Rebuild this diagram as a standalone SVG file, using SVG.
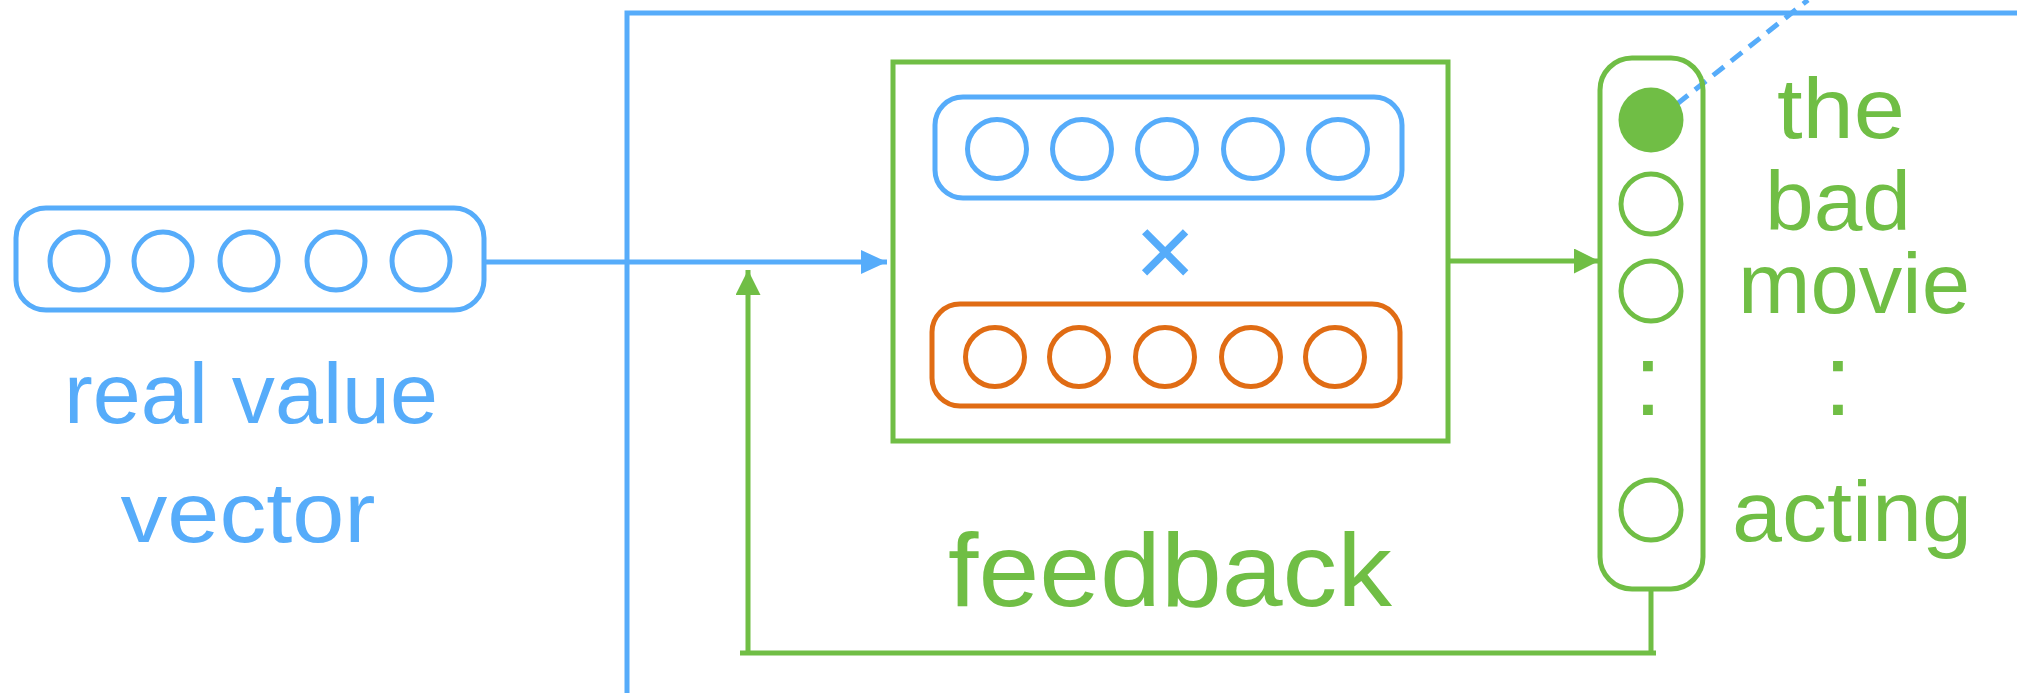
<svg xmlns="http://www.w3.org/2000/svg" width="2017" height="693" viewBox="0 0 2017 693">
  <style>
    .blue { stroke: #56acfa; }
    .green { stroke: #70be45; }
    .orange { stroke: #e06c14; }
    .line { fill: none; stroke-width: 5; }
    .unit { fill: none; stroke-width: 5; }
    .lbl { font-family: "Liberation Sans", Arial, sans-serif; font-stretch: normal; text-anchor: middle; }
    .lbl-blue { fill: #56acfa; }
    .lbl-green { fill: #70be45; }
  </style>
  <defs>
    <marker id="arrowBlue" viewBox="0 0 26 24" refX="26" refY="12" markerWidth="26" markerHeight="24" markerUnits="userSpaceOnUse" orient="auto">
      <path d="M0,0 L26,12 L0,24 Z" fill="#56acfa"/>
    </marker>
    <marker id="arrowGreen" viewBox="0 0 25 25" refX="25" refY="12.5" markerWidth="25" markerHeight="25" markerUnits="userSpaceOnUse" orient="auto">
      <path d="M0,0 L25,12.5 L0,25 Z" fill="#70be45"/>
    </marker>
  </defs>

  <rect width="2017" height="693" fill="#ffffff"/>

  <!-- connectors -->
  <g id="connectors">
    <!-- outer blue frame -->
    <polyline class="line blue" points="627,693 627,13 2017,13"/>
    <!-- input vector into the feedback block -->
    <line class="line blue" x1="484" y1="262" x2="887" y2="262" marker-end="url(#arrowBlue)"/>
    <!-- feedback block to output column -->
    <line class="line green" x1="1448" y1="261" x2="1599" y2="261" marker-end="url(#arrowGreen)"/>
    <!-- feedback loop -->
    <polyline class="line green" points="1651,590 1651,653"/>
    <line class="line green" x1="740" y1="653" x2="1656" y2="653"/>
    <line class="line green" x1="748" y1="653" x2="748" y2="270" marker-end="url(#arrowGreen)"/>
    <!-- dashed link from the selected word -->
    <line class="blue" x1="1677" y1="104" x2="1808" y2="0" stroke-width="5" stroke-dasharray="14 9"/>
  </g>

  <!-- real value vector -->
  <g id="real-value-vector">
    <rect class="unit blue" x="16" y="208" width="468" height="102" rx="30" ry="30"/>
    <circle class="unit blue" cx="79" cy="261" r="29"/>
    <circle class="unit blue" cx="163" cy="261" r="29"/>
    <circle class="unit blue" cx="249" cy="261" r="29"/>
    <circle class="unit blue" cx="336" cy="261" r="29"/>
    <circle class="unit blue" cx="421" cy="261" r="29"/>
    <text class="lbl lbl-blue" x="251" y="423" font-size="86" textLength="374" lengthAdjust="spacingAndGlyphs">real value</text>
    <text class="lbl lbl-blue" x="248" y="542" font-size="86" textLength="255" lengthAdjust="spacingAndGlyphs">vector</text>
  </g>

  <!-- feedback block -->
  <g id="feedback">
    <rect class="line green" x="893" y="62" width="555" height="379"/>
    <rect class="unit blue" x="935" y="97" width="467" height="101" rx="28" ry="28"/>
    <circle class="unit blue" cx="997" cy="149" r="29.5"/>
    <circle class="unit blue" cx="1082" cy="149" r="29.5"/>
    <circle class="unit blue" cx="1167" cy="149" r="29.5"/>
    <circle class="unit blue" cx="1253" cy="149" r="29.5"/>
    <circle class="unit blue" cx="1338" cy="149" r="29.5"/>
    <text class="lbl lbl-blue" x="1165" y="287" font-size="104">×</text>
    <rect class="unit orange" x="932" y="304" width="468" height="102" rx="28" ry="28"/>
    <circle class="unit orange" cx="995" cy="357" r="29.5"/>
    <circle class="unit orange" cx="1079" cy="357" r="29.5"/>
    <circle class="unit orange" cx="1165" cy="357" r="29.5"/>
    <circle class="unit orange" cx="1251" cy="357" r="29.5"/>
    <circle class="unit orange" cx="1335" cy="357" r="29.5"/>
    <text class="lbl lbl-green" x="1170" y="606" font-size="104" textLength="444" lengthAdjust="spacingAndGlyphs">feedback</text>
  </g>

  <!-- one-hot word column -->
  <g id="word-column">
    <rect class="unit green" x="1600" y="58" width="103" height="531" rx="32" ry="32"/>
    <circle cx="1651" cy="120" r="32.5" fill="#70be45"/>
    <circle class="unit green" cx="1651" cy="204" r="30"/>
    <circle class="unit green" cx="1651" cy="291" r="30"/>
    <text class="lbl lbl-green" x="1648" y="415" font-size="102">:</text>
    <circle class="unit green" cx="1651" cy="510" r="30"/>
  </g>

  <!-- vocabulary words -->
  <g id="vocabulary">
    <text class="lbl lbl-green" x="1841" y="138" font-size="86" textLength="128" lengthAdjust="spacingAndGlyphs">the</text>
    <text class="lbl lbl-green" x="1838" y="230" font-size="84" textLength="146" lengthAdjust="spacingAndGlyphs">bad</text>
    <text class="lbl lbl-green" x="1854" y="313" font-size="86" textLength="232" lengthAdjust="spacingAndGlyphs">movie</text>
    <text class="lbl lbl-green" x="1838" y="415" font-size="102">:</text>
    <text class="lbl lbl-green" x="1852" y="541" font-size="86" textLength="240" lengthAdjust="spacingAndGlyphs">acting</text>
  </g>
</svg>
